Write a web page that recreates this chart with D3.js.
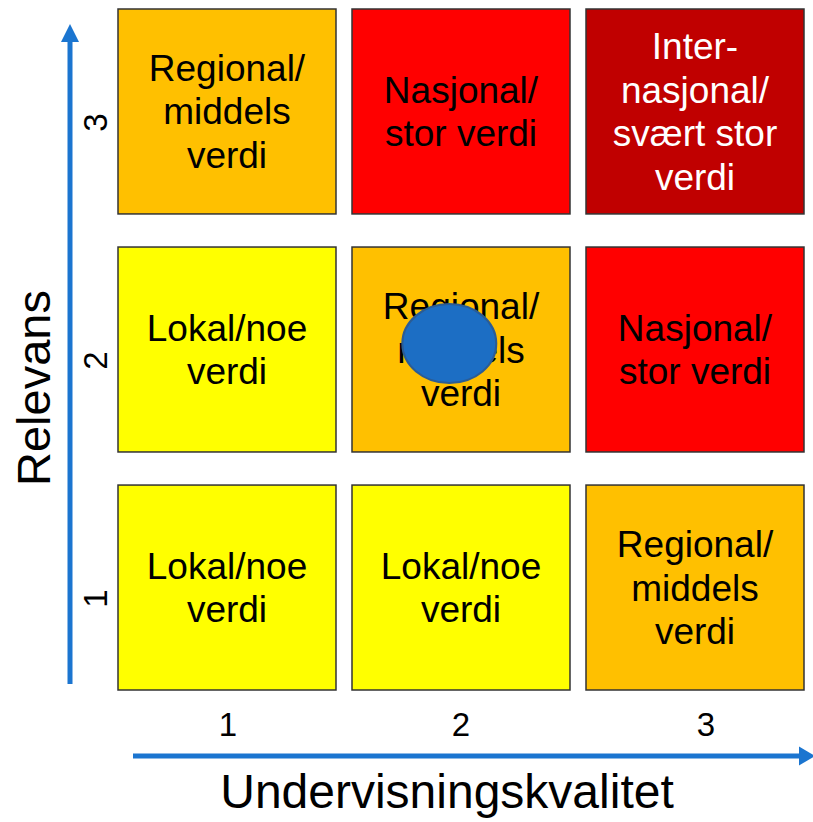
<!DOCTYPE html>
<html><head><meta charset="utf-8">
<script src="https://cdn.jsdelivr.net/npm/d3@7"></script>
<style>html,body{margin:0;padding:0;background:#fff}svg{display:block}</style>
</head><body>
<svg id="c" width="813" height="822"></svg>
<script>
// ---- data ----
const xCategories = [1, 2, 3];           // Undervisningskvalitet
const yCategories = [3, 2, 1];           // Relevans (top to bottom)
const xTickLabels = ["1", "2", "3"];
const yTickLabels = ["1", "2", "3"];
const cellX = [1, 2, 3, 1, 2, 3, 1, 2, 3];
const cellY = [1, 1, 1, 2, 2, 2, 3, 3, 3];
const cellLevel = [1, 1, 2, 1, 2, 3, 2, 3, 4];
const levelLabels = {
  1: ["Lokal/noe", "verdi"],
  2: ["Regional/", "middels", "verdi"],
  3: ["Nasjonal/", "stor verdi"],
  4: ["Inter-", "nasjonal/", "svært stor", "verdi"]
};
const levelColors = {1: "#FFFF00", 2: "#FFC000", 3: "#FF0000", 4: "#C00000"};
const levelTextColors = {1: "#000", 2: "#000", 3: "#000", 4: "#fff"};
const pointX = [1.95];
const pointY = [2.025];
const xTitle = "Undervisningskvalitet";
const yTitle = "Relevans";

// ---- layout ----
const svg = d3.select("#c");
const font = "'Liberation Sans', Arial, sans-serif";
const x = d3.scaleBand().domain(xCategories).range([118, 804]).paddingInner(0.0684).paddingOuter(0);
const y = d3.scaleBand().domain(yCategories).range([9, 690]).paddingInner(0.139).paddingOuter(0);
const xc = d3.scaleLinear().domain([1, 3]).range([x(1) + x.bandwidth()/2, x(3) + x.bandwidth()/2]);
const yc = d3.scaleLinear().domain([1, 3]).range([y(1) + y.bandwidth()/2, y(3) + y.bandwidth()/2]);

const cells = cellX.map((cx, i) => ({x: cx, y: cellY[i], level: cellLevel[i]}));

const g = svg.append("g");
g.selectAll("rect.cell").data(cells).join("rect")
  .attr("class", "cell")
  .attr("x", d => x(d.x)).attr("y", d => y(d.y))
  .attr("width", x.bandwidth()).attr("height", y.bandwidth())
  .attr("fill", d => levelColors[d.level])
  .attr("stroke", "#333").attr("stroke-width", 1.5);

const lineH = 43.5;
cells.forEach(d => {
  const lines = levelLabels[d.level];
  const cx = x(d.x) + x.bandwidth()/2;
  const cy = y(d.y) + y.bandwidth()/2;
  const t = g.append("text")
    .attr("text-anchor", "middle")
    .attr("font-family", font).attr("font-size", 37)
    .attr("fill", levelTextColors[d.level]);
  lines.forEach((ln, i) => {
    t.append("tspan").attr("x", cx)
      .attr("y", cy + (i - (lines.length - 1)/2) * lineH + 13)
      .text(ln);
  });
});

// point
g.selectAll("ellipse.pt").data(pointX.map((v, i) => ({x: v, y: pointY[i]}))).join("ellipse")
  .attr("class", "pt")
  .attr("cx", d => xc(d.x)).attr("cy", d => yc(d.y))
  .attr("rx", 47).attr("ry", 39.5)
  .attr("fill", "#1C6EC4").attr("stroke", "#2B5C94").attr("stroke-width", 2);

// axes arrows
const blue = "#1B75D0";
svg.append("line").attr("x1", 70).attr("x2", 70).attr("y1", 684).attr("y2", 40)
  .attr("stroke", blue).attr("stroke-width", 5);
svg.append("path").attr("d", "M61,42 L70,24 L79,42 Z").attr("fill", blue);
svg.append("line").attr("x1", 133).attr("x2", 801).attr("y1", 756).attr("y2", 756)
  .attr("stroke", blue).attr("stroke-width", 5);
svg.append("path").attr("d", "M799,746.5 L815,756 L799,765.5 Z").attr("fill", blue);

// tick labels
const xNudge = [1, 0, 11];
svg.selectAll("text.xt").data(xCategories).join("text")
  .attr("class", "xt")
  .attr("x", (d, i) => x(d) + x.bandwidth()/2 + xNudge[i]).attr("y", 736)
  .attr("text-anchor", "middle").attr("font-family", font).attr("font-size", 33)
  .text((d, i) => xTickLabels[i]);
const yCats = [1, 2, 3];
svg.selectAll("text.yt").data(yCats).join("text")
  .attr("class", "yt")
  .attr("transform", (d) => `translate(107,${y(d) + y.bandwidth()/2 + 11}) rotate(-90)`)
  .attr("text-anchor", "middle").attr("font-family", font).attr("font-size", 33)
  .text((d, i) => yTickLabels[i]);

// titles
svg.append("text").attr("x", 447).attr("y", 808)
  .attr("text-anchor", "middle").attr("font-family", font).attr("font-size", 48)
  .text(xTitle);
svg.append("text").attr("transform", "translate(50,388) rotate(-90)")
  .attr("text-anchor", "middle").attr("font-family", font).attr("font-size", 47)
  .text(yTitle);
</script>
</body></html>
